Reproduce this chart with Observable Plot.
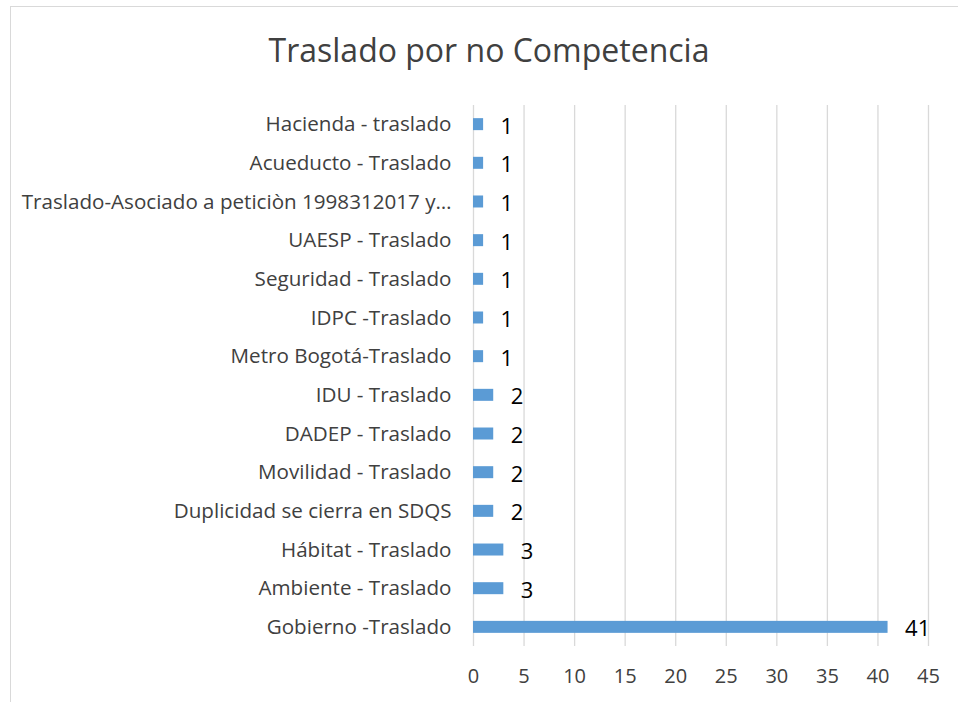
<!DOCTYPE html>
<html>
<head>
<meta charset="utf-8">
<script src="https://cdn.jsdelivr.net/npm/d3@7"></script>
<script src="https://cdn.jsdelivr.net/npm/@observablehq/plot@0.6"></script>
<style>
  html, body { margin: 0; padding: 0; background: #fff; }
  #wrap { position: relative; width: 958px; height: 702px; overflow: hidden; font-family: "Open Sans", sans-serif; }
  #frame { position: absolute; left: 10px; top: 6px; width: 1000px; height: 800px; border: 1px solid #d9d9d9; box-sizing: border-box; }
  #title { position: absolute; left: 10px; width: 958px; top: 27px; text-align: center; font-size: 32px; color: #404040; line-height: 46px; }
  #chart { position: absolute; left: 0; top: 0; }
</style>
</head>
<body>
<div id="wrap">
  <div id="frame"></div>
  <div id="chart"></div>
  <div id="title">Traslado por no Competencia</div>
</div>
<script>
const categories = [
  "Hacienda - traslado",
  "Acueducto - Traslado",
  "Traslado-Asociado a peticiòn 1998312017 y…",
  "UAESP - Traslado",
  "Seguridad - Traslado",
  "IDPC -Traslado",
  "Metro Bogotá-Traslado",
  "IDU - Traslado",
  "DADEP - Traslado",
  "Movilidad - Traslado",
  "Duplicidad se cierra en SDQS",
  "Hábitat - Traslado",
  "Ambiente - Traslado",
  "Gobierno -Traslado"
];
const values = [1, 1, 1, 1, 1, 1, 1, 2, 2, 2, 2, 3, 3, 41];
const xTicks = [0, 5, 10, 15, 20, 25, 30, 35, 40, 45];

const data = categories.map((c, i) => ({category: c, value: values[i]}));

const chart = Plot.plot({
  width: 958,
  height: 702,
  marginLeft: 473,
  marginRight: 30,
  marginTop: 105,
  marginBottom: 56,
  style: {fontFamily: "'Open Sans', sans-serif", background: "transparent"},
  x: {domain: [0, 45], ticks: xTicks, label: null},
  y: {domain: categories, paddingInner: 0.69, paddingOuter: 0.34, round: false, label: null},
  marks: [
    Plot.gridX(xTicks, {stroke: "#d9d9d9", strokeOpacity: 1, strokeWidth: 1.3}),
    Plot.barX(data, {y: "category", x: "value", fill: "#5b9bd5"}),
    Plot.text(data, {y: "category", x: "value", text: d => String(d.value), textAnchor: "start", dx: 17, dy: 2, fontSize: 22, fill: "#000"}),
    Plot.axisX({ticks: xTicks, tickSize: 0, tickPadding: 22, fontSize: 20, color: "#404040", label: null}),
    Plot.axisY({tickSize: 0, tickPadding: 22, fontSize: 20.6, color: "#404040", label: null})
  ]
});
document.getElementById("chart").appendChild(chart);
</script>
</body>
</html>
